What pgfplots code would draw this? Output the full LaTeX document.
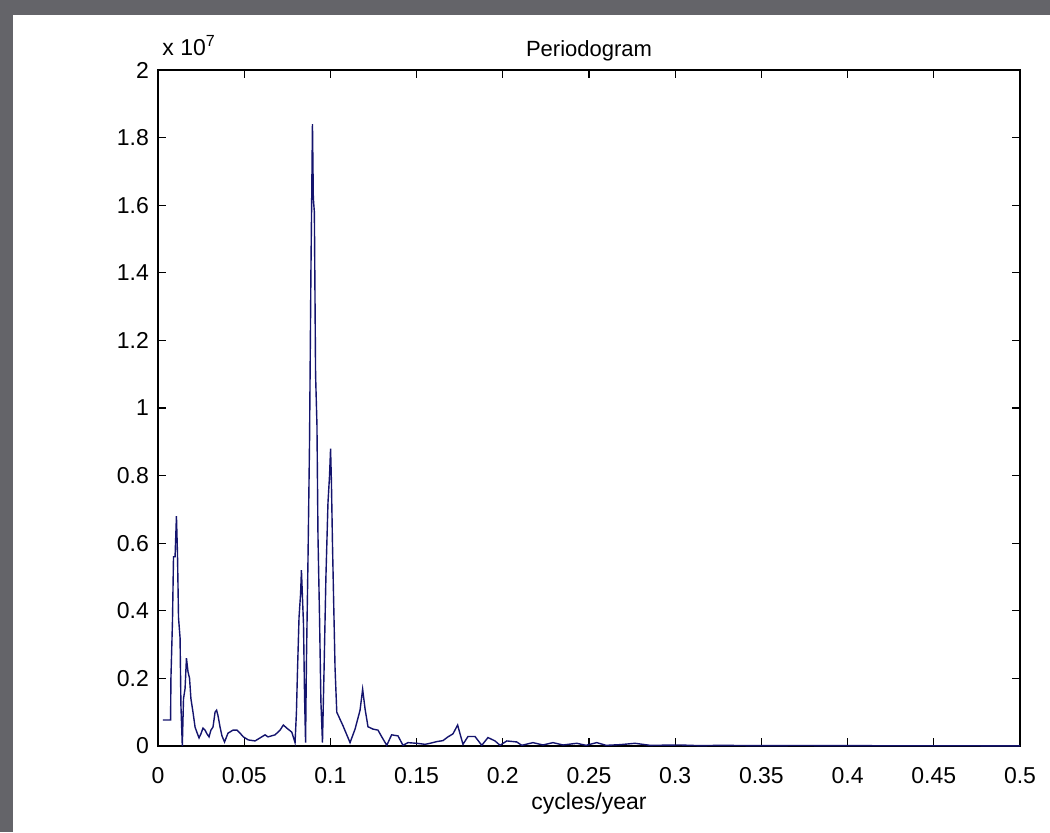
\documentclass[border=0pt]{standalone}
\usepackage{pgfplots}
\pgfplotsset{compat=1.18}
\usepackage{fontspec}
\setmainfont{Liberation Sans}
\definecolor{bordergray}{RGB}{100,100,105}
\definecolor{mline}{RGB}{20,20,110}
\begin{document}
\begin{tikzpicture}[x=1pt,y=1pt]
\useasboundingbox (0,0) rectangle (525,416);
\fill[white] (0,0) rectangle (525,416);
\fill[bordergray] (0,0) rectangle (6.5,416);
\fill[bordergray] (0,408.5) rectangle (525,416);
\begin{axis}[
  name=ax,
  at={(79pt,43pt)}, anchor=south west,
  scale only axis, width=431pt, height=338pt,
  xmin=0, xmax=0.5, ymin=0, ymax=2,
  xtick={0,0.05,...,0.5},
  xticklabels={0,0.05,0.1,0.15,0.2,0.25,0.3,0.35,0.4,0.45,0.5},
  ytick={0,0.2,...,2},
  yticklabels={0,0.2,0.4,0.6,0.8,1,1.2,1.4,1.6,1.8,2},
  scaled ticks=false,
  tick align=inside, tick pos=both,
  major tick length=4pt,
  axis line style={black, line width=0.7pt},
  tick style={black, line width=0.6pt},
  ticklabel style={font=\fontsize{11.5}{13}\selectfont},
  xticklabel style={yshift=-7pt},
  yticklabel style={xshift=-1pt},
  title={Periodogram},
  title style={font=\fontsize{11}{13}\selectfont, yshift=-5pt},
  xlabel={cycles/year},
  xlabel style={font=\fontsize{11.5}{13}\selectfont, yshift=2pt},
  clip=true,
]
\addplot[mline, line width=0.7pt] coordinates {
(0.0029,0.077) (0.0073,0.077) (0.0075,0.20) (0.0084,0.37) (0.0090,0.56)
(0.0099,0.56) (0.0107,0.68) (0.0113,0.57) (0.0119,0.38) (0.0128,0.32)
(0.0133,0.12) (0.0141,0.0) (0.0148,0.14) (0.0157,0.17) (0.0165,0.26)
(0.0174,0.22) (0.0183,0.20) (0.0191,0.14) (0.0203,0.10) (0.0215,0.056)
(0.0226,0.04) (0.0238,0.024) (0.0249,0.036) (0.0261,0.053) (0.0273,0.047)
(0.0284,0.036) (0.0296,0.027) (0.0307,0.047) (0.0319,0.056) (0.0331,0.10)
(0.0340,0.106) (0.0348,0.09) (0.0360,0.056) (0.0371,0.03) (0.0386,0.012)
(0.0406,0.038) (0.0435,0.047) (0.0458,0.047) (0.0476,0.038) (0.0495,0.027)
(0.0524,0.018) (0.0563,0.015) (0.0592,0.024) (0.0621,0.033) (0.0638,0.027)
(0.0679,0.033) (0.0708,0.047) (0.0727,0.062) (0.0747,0.053) (0.0776,0.041)
(0.0795,0.01) (0.0803,0.10) (0.0809,0.22) (0.0818,0.38) (0.0827,0.45)
(0.0832,0.52) (0.0838,0.44) (0.0844,0.36) (0.0850,0.15) (0.0856,0.01)
(0.0861,0.25) (0.0870,0.55) (0.0879,0.90) (0.0887,1.40) (0.0896,1.84)
(0.0901,1.62) (0.0907,1.58) (0.0914,1.10) (0.0922,0.95) (0.0928,0.62)
(0.0937,0.38) (0.0945,0.13) (0.0954,0.01) (0.0963,0.22) (0.0974,0.50)
(0.0986,0.72) (0.0995,0.80) (0.1001,0.88) (0.1006,0.78) (0.1012,0.60)
(0.1018,0.45) (0.1027,0.23) (0.1037,0.10) (0.1073,0.06) (0.1114,0.01)
(0.1143,0.05) (0.1172,0.106) (0.1187,0.168) (0.1201,0.11) (0.1218,0.057)
(0.1247,0.05) (0.1276,0.047) (0.1298,0.027) (0.1327,0.002) (0.1355,0.033)
(0.1392,0.03) (0.1421,0.002) (0.1450,0.01) (0.1501,0.008) (0.1549,0.005)
(0.1578,0.008) (0.1617,0.013) (0.1653,0.016) (0.1682,0.027) (0.1711,0.036)
(0.1738,0.062) (0.1752,0.036) (0.1769,0.005) (0.1798,0.028) (0.1839,0.028)
(0.1878,0.002) (0.1914,0.025) (0.1955,0.015) (0.1984,0.002) (0.2023,0.015)
(0.2081,0.012) (0.2110,0.002) (0.2175,0.01) (0.2233,0.003) (0.2291,0.01)
(0.2349,0.003) (0.2429,0.008) (0.2483,0.002) (0.2545,0.01) (0.2599,0.002)
(0.268,0.004) (0.2767,0.008) (0.2854,0.002) (0.303,0.003) (0.3144,0.001)
(0.326,0.002) (0.349,0.001) (0.372,0.0015) (0.401,0.001) (0.430,0.0008)
(0.459,0.0008) (0.488,0.0005) (0.5,0.0005)
};
\end{axis}
\node[anchor=south west, inner sep=0pt, font=\fontsize{11.5}{13}\selectfont]
  at ([xshift=2pt,yshift=7pt]ax.north west) {x 10$^{\mathrm{7}}$};
\end{tikzpicture}
\end{document}
